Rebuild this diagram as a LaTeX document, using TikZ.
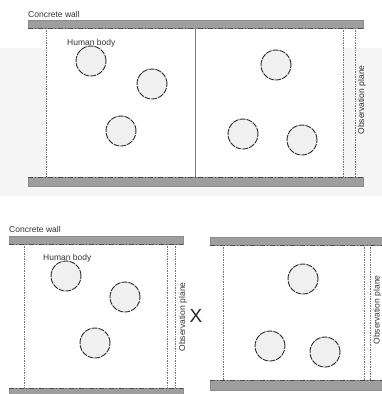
\documentclass[tikz,border=0pt]{standalone}
\usepackage{fontspec}
\setmainfont{Liberation Sans}
\usetikzlibrary{positioning}

\begin{document}
\begin{tikzpicture}[x=1pt,y=-1pt,
		wallbar/.style={fill=black!38, draw=black!45, line width=0.4pt},
		walledge/.style={draw=black!70, line width=0.6pt, dash pattern=on 5pt off 2pt on 1pt off 2pt},
		obsline/.style={draw=black!55, line width=0.7pt, dash pattern=on 0.8pt off 0.9pt},
		body/.style={circle, minimum size=30pt, inner sep=0pt, fill=black!6, draw=black!85, line width=0.9pt, dash pattern=on 6pt off 1pt},
		lbl/.style={font=\fontsize{8.5}{9}\selectfont, text=black!80, inner sep=0pt},
		plane/.style={lbl, rotate=90}]
	\useasboundingbox (0,0) rectangle (382,394);
	\clip (0,0) rectangle (382,394);
	% faint grey band of the scan
	\fill[black!4] (0,48) rectangle (382,196);
	\fill[white] (46,48) rectangle (343,176);

	% upper room
	\fill[wallbar] (28,20) rectangle (363,28);
	\draw[walledge] (28,28) -- (363,28);
	\fill[wallbar] (28,177) rectangle (363,186);
	\draw[walledge] (28,177) -- (363,177);
	\draw[obsline] (46,28) -- (46,177);
	\draw[obsline] (343,28) -- (343,177);
	\draw[obsline] (355,28) -- (355,177);
	\draw[black!50, line width=1pt] (195,28) -- (195,177);
	\node[lbl, anchor=west] (wallA) at (28,14) {Concrete wall};
	\node[lbl, anchor=west] (humA) at (67,43) {Human body};
	\node[plane] (planeA) at (362,100) {Observation plane};
	\node[body] (a1) at (91,61) {};
	\node[body] (a2) at (152,84) {};
	\node[body] (a3) at (121,131) {};
	\node[body] (a4) at (276,65) {};
	\node[body] (a5) at (243,134) {};
	\node[body] (a6) at (302,140) {};

	% lower left room
	\fill[wallbar] (9,236) rectangle (183,244);
	\draw[walledge] (9,244) -- (183,244);
	\fill[wallbar] (9,388) rectangle (183,396);
	\draw[walledge] (9,388) -- (183,388);
	\draw[obsline] (24,244) -- (24,388);
	\draw[obsline] (167,244) -- (167,388);
	\draw[obsline] (175,244) -- (175,388);
	\node[lbl, anchor=west] (wallB) at (9,229) {Concrete wall};
	\node[lbl, anchor=west] (humB) at (43,258) {Human body};
	\node[plane] (planeB) at (183,317) {Observation plane};
	\node[body] (b1) at (66,276) {};
	\node[body] (b2) at (125,297) {};
	\node[body] (b3) at (95,343) {};

	\node[font=\fontsize{19}{20}\selectfont, inner sep=0pt, text=black!85] (cross) at (196,316) {X};

	% lower right room
	\fill[wallbar] (210,237) rectangle (382,245);
	\draw[walledge] (210,245) -- (382,245);
	\fill[wallbar] (210,380) rectangle (382,390);
	\draw[walledge] (210,380) -- (382,380);
	\draw[obsline] (223,245) -- (223,380);
	\draw[obsline] (364,245) -- (364,380);
	\draw[obsline] (370,245) -- (370,380);
	\node[plane, anchor=south] (planeC) at (381.5,310) {Observation plane};
	\node[body] (c1) at (303,279) {};
	\node[body] (c2) at (270,346) {};
	\node[body] (c3) at (325,352) {};
\end{tikzpicture}
\end{document}
